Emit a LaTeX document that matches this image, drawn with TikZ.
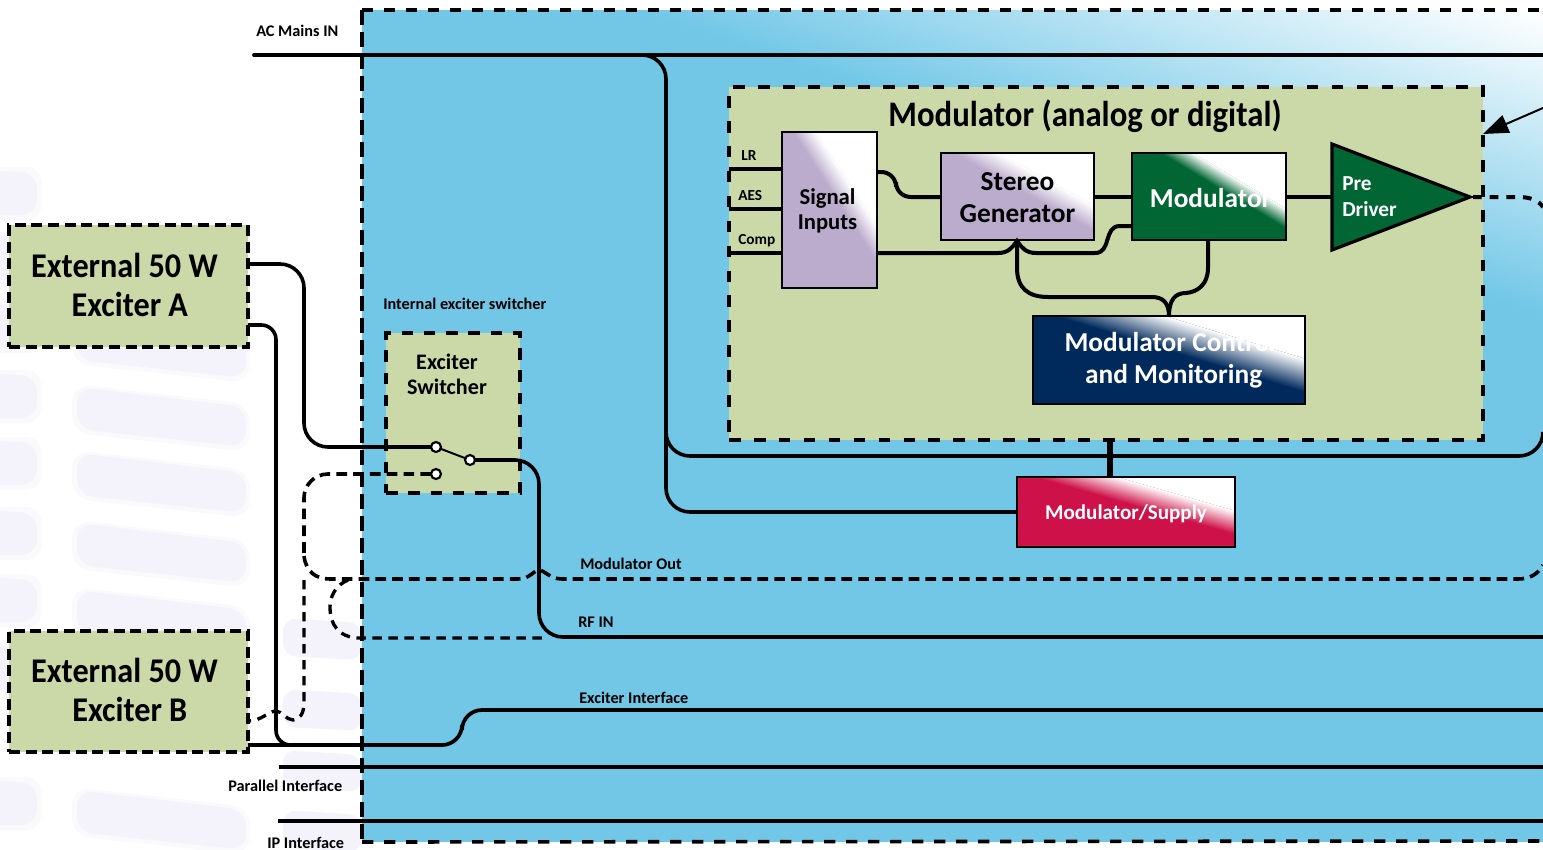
\documentclass[tikz,border=0pt]{standalone}
\usepackage{fontspec}
\setmainfont{Carlito}
\newfontfamily\titlef[FakeStretch=0.91]{Carlito}
\newfontfamily\extf[FakeStretch=0.93]{Carlito}
\usetikzlibrary{fit,arrows.meta}
\definecolor{skyb}{HTML}{72C7E7}
\definecolor{olive}{HTML}{CBD9A9}
\definecolor{lilac}{HTML}{BBABCC}
\definecolor{dgreen}{HTML}{006633}
\definecolor{navy}{HTML}{002A5C}
\definecolor{crim}{HTML}{CE1148}
\definecolor{ghost}{HTML}{F4F3FB}
\definecolor{ghostb}{HTML}{FAFAFD}
\newcommand\gradfill[6]{%
 \begin{scope}
 \clip (#1) rectangle (#2);
 \fill[#3] (#1) rectangle (#2);
 \begin{scope}[transform canvas={shift={(#4)},rotate=#5}]
 \shade[left color=#3,right color=white] (-#6,-1200pt) rectangle (#6,1200pt);
 \fill[white] (#6,-1200pt) rectangle (1500pt,1200pt);
 \end{scope}
 \end{scope}}
\tikzset{
 wire/.style={line width=2.7pt,draw=black,rounded corners=18pt},
 wiresm/.style={line width=2.7pt,draw=black,rounded corners=11pt},
 inwire/.style={line width=3pt,draw=black},
 dashwire/.style={line width=2.7pt,draw=black,dash pattern=on 8pt off 4.6pt},
 dashwireb/.style={line width=2.5pt,draw=black,dash pattern=on 7pt off 5pt},
 zonebase/.style={draw=black,fill=olive,line width=2.7pt,inner sep=0pt,outer sep=0pt,align=center},
 zonebox/.style={zonebase,dash pattern=on 8.7pt off 10pt},
 extbox/.style={zonebase,dash pattern=on 8.2pt off 4.3pt},
 swbox/.style={zonebase,dash pattern=on 8.7pt off 8pt},
 solidbox/.style={draw=black,line width=2.2pt,inner sep=0pt,outer sep=0pt},
 lab/.style={font=\bfseries\fontsize{12.2pt}{12pt}\selectfont,inner sep=0pt},
 smalllab/.style={font=\bfseries\fontsize{11.5pt}{11.5pt}\selectfont,inner sep=0pt},
 extlabel/.style={font=\extf\bfseries\fontsize{26pt}{29.3pt}\selectfont,align=center,inner sep=0pt},
 boxtext/.style={font=\bfseries\fontsize{20.5pt}{24pt}\selectfont,align=center,inner sep=0pt},
 sigtext/.style={font=\bfseries\fontsize{17pt}{19pt}\selectfont,align=center,inner sep=0pt},
 term/.style={circle,draw=black,fill=white,line width=1.6pt,minimum size=7.5pt,inner sep=0pt,outer sep=0pt},
}
\begin{document}
\begin{tikzpicture}[x=0.75pt,y=-0.75pt]
\useasboundingbox (0,0) rectangle (1543,850);
% ghost background
\foreach \yy in {318,387,453,523,590,790}{
 \fill[ghostb,rounded corners=14pt] (72,\yy-3) -- (250,\yy+17) -- (250,\yy+65) -- (72,\yy+46) -- cycle;
 \fill[ghost,rounded corners=12pt] (77,\yy) -- (246,\yy+20) -- (246,\yy+60) -- (77,\yy+42) -- cycle;
}
\foreach \yy in {170,235,303,373,440,510,577,645,780}{
 \fill[ghostb,rounded corners=12pt] (-20,\yy-3) -- (42,\yy-3) -- (42,\yy+50) -- (-20,\yy+50) -- cycle;
 \fill[ghost,rounded corners=12pt] (-20,\yy) -- (37,\yy+3) -- (37,\yy+45) -- (-20,\yy+45) -- cycle;
}
\foreach \yy in {618,689,750,810}{
 \fill[ghost,rounded corners=10pt] (283,\yy) -- (362,\yy+5) -- (362,\yy+42) -- (283,\yy+38) -- cycle;
}
% blue chassis
\gradfill{362,10}{1543,842}{skyb}{1085,10}{71.4}{107pt}
\coordinate (brdBL) at (362,842);
\coordinate (brdTL) at (362,10);
\coordinate (brdTR) at (1545,10);
\coordinate (brdBR) at (1545,841);
\draw[line width=2.7pt,dash pattern=on 8.6pt off 7.9pt] (brdBL) -- (brdBR);
\draw[line width=2.7pt,dash pattern=on 8.6pt off 7.9pt] (brdTL) -- (brdTR);
\draw[line width=2.7pt,dash pattern=on 11pt off 5.5pt] (brdTL) -- (brdBL);
% free ends
\coordinate (acL) at (254,55);
\coordinate (acR) at (1543,55);
\coordinate (acT) at (641,55);
\coordinate (acV) at (666,456);
\coordinate (acE) at (1543,438);
\coordinate (acC) at (1543,456);
% zones
\node[zonebox,fit={(729,87)(1483,440)}] (modz) {};
\node[extbox,fit={(9,225)(248,347)},label={[extlabel,xshift=-3pt,yshift=0.8pt]center:External 50 W\\\hspace*{8pt}Exciter A}] (exA) {};
\node[extbox,fit={(9,631)(248,752)},label={[extlabel,xshift=-3pt,yshift=1.5pt]center:External 50 W\\\hspace*{8pt}Exciter B}] (exB) {};
\node[swbox,fit={(386,333)(520,493)}] (swz) {};
\node[font=\bfseries\fontsize{16.6pt}{19pt}\selectfont,align=center,inner sep=0pt] (swt) at (447,374) {Exciter\\Switcher};
% gradient fills
\gradfill{782,132}{877,288}{lilac}{840,187}{33}{7.5pt}
\gradfill{941,153}{1094,240}{lilac}{1036,186}{61}{8.5pt}
\gradfill{1132,153}{1286,240}{dgreen}{1232,186}{59}{6.4pt}
\gradfill{1033,316}{1305,404}{navy}{1212,347}{73}{12pt}
\gradfill{1017,477}{1235,547}{crim}{1160,501}{74}{8.5pt}
% solid blocks
\node[solidbox,fit={(782,132)(877,288)},label={[sigtext,xshift=-1.5pt,yshift=-0.5pt]center:Signal\\Inputs}] (sig) {};
\node[solidbox,fit={(941,153)(1094,240)},label={[boxtext,yshift=-1pt]center:Stereo\\Generator}] (ste) {};
\node[solidbox,fit={(1132,153)(1286,240)},label={[boxtext,text=white,xshift=1.2pt,yshift=-1.3pt]center:Modulator}] (mod) {};
\node[solidbox,fit={(1033,316)(1305,404)},label={[boxtext,text=white,xshift=1pt]center:Modulator Control\\\hspace*{5pt}and Monitoring}] (ctl) {};
\node[solidbox,fit={(1017,477)(1235,547)},label={[sigtext,font=\bfseries\fontsize{15.8pt}{19pt}\selectfont,text=white,yshift=-1.5pt]center:Modulator/Supply}] (sup) {};
\coordinate (pdT) at (1332,144);
\coordinate (pdB) at (1332,250);
\coordinate (pdR) at (1470,197);
\coordinate (pdL) at (1331,197);
\draw[fill=dgreen,line width=2.4pt,line join=miter] (pdT) -- (pdR) -- (pdB) -- cycle;
\node[font=\bfseries\fontsize{16pt}{19.5pt}\selectfont,text=white,align=left,anchor=west,inner sep=0pt] (pdt) at (1342,197) {Pre\\Driver};
\node[font=\titlef\bfseries\fontsize{27pt}{27pt}\selectfont,inner sep=0pt] (title) at (1085,116) {Modulator (analog or digital)};
% AC mains
\draw[line width=2.8pt,line cap=round] (acL) -- (acR);
\draw[wire] (acT) -- (666,55) |- (sup.west);
\draw[wire] (666,420) |- (acC) -- (acE);
\draw[line width=4.6pt] (1110,440) -- (1110,477);
% inner wires
\coordinate (lrL) at (729,169);
\coordinate (aesL) at (729,209);
\coordinate (cpL) at (727,253);
\draw[inwire] (lrL) -- (lrL -| sig.west);
\draw[inwire] (aesL) -- (aesL -| sig.west);
\draw[inwire] (cpL) -- (cpL -| sig.west);
\draw[wiresm,line width=3pt] (sig.east |- 0,172) -- (896,172) -- (896,197) -- (ste.west |- 0,197);
\draw[inwire] (ste.east |- 0,197) -- (mod.west |- 0,197);
\draw[inwire] (mod.east |- 0,197) -- (pdL);
\coordinate (hub) at (1017,241);
\draw[inwire] (sig.east |- 0,253) -- (998,253) .. controls (1008,253) and (1012,248) .. (hub)
  .. controls (1022,248) and (1026,253) .. (1036,253) -- (1095,253)
  .. controls (1112,253) and (1103,226) .. (1120,226) -- (mod.west |- 0,226);
\draw[inwire] (hub) -- (1017,268) .. controls (1017,288) and (1028,297) .. (1048,297) -- (1152,297)
  .. controls (1163,297) and (1169,303) .. (ctl.north -| 1169,316);
\draw[inwire] (mod.south -| 1208,240) -- (1208,268) .. controls (1208,284) and (1198,292) .. (1186,293)
  .. controls (1175,293) and (1169,300) .. (ctl.north -| 1169,316);
% pre driver output, arrow
\coordinate (pdE) at (1543,207);
\draw[line width=3pt,dash pattern=on 6.5pt off 6pt] (1473,197) -- (1518,197) .. controls (1530,197) and (1538,200) .. (pdE);
\coordinate (arS) at (1543,108);
\coordinate (arE) at (1483,134);
\draw[line width=1.5pt,-{Triangle[length=19pt,width=14pt]}] (arS) -- (arE);
% switch
\node[term] (t1) at (436,447) {};
\node[term] (t2) at (470,460) {};
\node[term] (t3) at (436,474) {};
\draw[line width=1.5pt] (t1) -- (t2);
% exciter wires
\draw[wire] (exA.east |- 0,264) -- (304,264) -- (304,447) -- (t1.west);
\draw[wire] (t2.east) -- (539,460) -- (539,637) -- (acR |- 0,637);
\draw[wiresm] (exA.east |- 0,325) -- (276,325) -- (276,745) -- (296,745);
\draw[line width=2.8pt,rounded corners=15pt] (exB.east |- 0,745) -- (462,745) -- (462,710) -- (acR |- 0,710);
% interfaces
\coordinate (parL) at (279,767);
\coordinate (ipL) at (278,821);
\draw[line width=2.4pt] (parL) -- (acR |- parL);
\draw[line width=2.4pt] (ipL) -- (acR |- ipL);
% dashed
\draw[dashwire,rounded corners=18pt] (t3.west) -- (304,474) -- (304,556);
\draw[dashwireb] (304,580) -- (304,703) .. controls (304,714) and (299,720) .. (293,720) .. controls (286,720) and (282,711) .. (276,711) .. controls (268,711) and (262,721) .. (exB.east |- 0,721);
\draw[dashwire] (304,556) .. controls (306,572) and (316,579) .. (330,579) -- (518,579)
  .. controls (530,579) and (534,570) .. (539,570) .. controls (544,570) and (550,579) .. (562,579) -- (1518,579) .. controls (1530,579) and (1538,574) .. (acR |- 0,565);
\draw[dashwireb] (348,580) .. controls (336,585) and (330,596) .. (330,607) .. controls (330,624) and (338,637) .. (358,638) -- (544,638);
% labels
\node[lab,anchor=west] (l1) at (256,31) {AC Mains IN};
\node[lab,anchor=west] (l2) at (383,304) {Internal exciter switcher};
\node[lab,anchor=west] (l3) at (580,564) {Modulator Out};
\node[lab,anchor=west] (l4) at (578,622) {RF IN};
\node[lab,anchor=west] (l5) at (579,698) {Exciter Interface};
\node[lab,anchor=west] (l6) at (228,786) {Parallel Interface};
\node[lab,anchor=west] (l7) at (267,843) {IP Interface};
\node[smalllab,anchor=west] (l8) at (741,156) {LR};
\node[smalllab,anchor=west] (l9) at (738,196) {AES};
\node[smalllab,anchor=west] (l10) at (738,241) {Comp};
\end{tikzpicture}
\end{document}
